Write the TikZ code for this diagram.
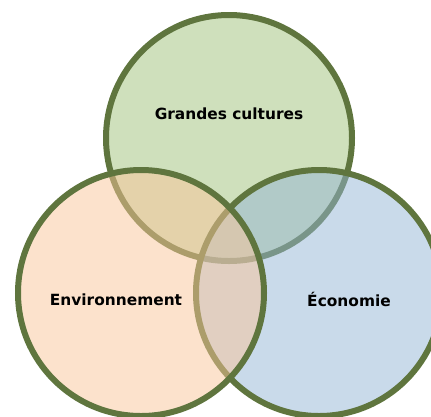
\documentclass[tikz,border=0pt]{standalone}
\usepackage{fontspec}
\setmainfont{DejaVu Sans}
\usetikzlibrary{positioning}
\definecolor[named]{Olive}{RGB}{95,117,62}
\definecolor[named]{Leaf}{RGB}{159,193,121}
\definecolor[named]{Peach}{RGB}{249,197,153}
\definecolor[named]{Sky}{RGB}{147,181,213}
\tikzset{venn/.style ={
        circle,
        minimum size=246pt,
        inner sep=0pt,
        draw=Olive,
        line width=6pt,
        fill opacity=0.5,
    },
    crops/.style={
        venn,
        fill=Leaf,
    },
    env/.style={
        venn,
        fill=Peach,
    },
    eco/.style={
        venn,
        fill=Sky,
    },
    txt/.style ={
        font=\fontsize{15.4}{18}\selectfont\bfseries,
        anchor=base,
    }}

\begin{document}
\begin{tikzpicture}[x=1pt,y=-1pt]
	\useasboundingbox (0,0) rectangle (431,416);
	\clip (0,0) rectangle (431,416);
	% circles, back to front
	\node[crops] (cult) at (229,138) {};
	\node[eco] (econ) at (319,293) {};
	\node[env] (envi) at (141,293) {};
	% labels
	\node[txt] (cultlbl) at ([yshift=19pt]cult.center) {Grandes cultures};
	\node[txt] (envilbl) at ([xshift=-25pt,yshift=-12.5pt]envi.center) {Environnement};
	\node[txt] (econlbl) at ([xshift=30pt,yshift=-13pt]econ.center) {Économie};
\end{tikzpicture}
\end{document}
